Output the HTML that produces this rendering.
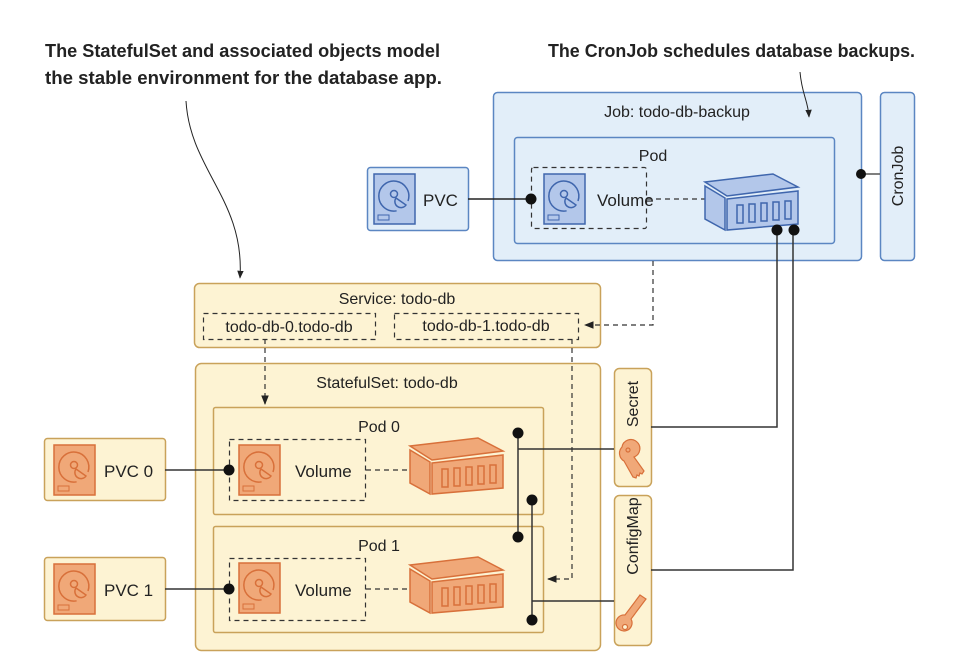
<!DOCTYPE html>
<html><head><meta charset="utf-8"><style>
html,body{margin:0;padding:0;background:#fff;}
svg{display:block;font-family:"Liberation Sans",sans-serif;}
</style></head><body>
<svg width="978" height="661" viewBox="0 0 978 661" xmlns="http://www.w3.org/2000/svg">
<defs>
<marker id="ah" viewBox="0 0 10 10" refX="9" refY="5" markerWidth="8" markerHeight="8" orient="auto"><path d="M0,1 L10,5 L0,9 Z" fill="#222"/></marker>
<g id="diskB">
<rect x="0" y="0" width="41" height="50" fill="#b3c7ea" stroke="#3f66ad" stroke-width="1.5"/>
<path d="M34,27 A15,15 0 1 0 22.6,36.8" fill="none" stroke="#3f66ad" stroke-width="1.5"/>
<circle cx="20" cy="20" r="3.5" fill="none" stroke="#3f66ad" stroke-width="1.5"/>
<path d="M22,24 L32,31 A6,6 0 1 1 22,24 Z" fill="none" stroke="#3f66ad" stroke-width="1.5"/>
<rect x="4" y="41" width="11" height="5" fill="none" stroke="#3f66ad" stroke-width="1"/>
</g>
<g id="diskO">
<rect x="0" y="0" width="41" height="50" fill="#f0a878" stroke="#d8703a" stroke-width="1.5"/>
<path d="M34,27 A15,15 0 1 0 22.6,36.8" fill="none" stroke="#d8703a" stroke-width="1.5"/>
<circle cx="20" cy="20" r="3.5" fill="none" stroke="#d8703a" stroke-width="1.5"/>
<path d="M22,24 L32,31 A6,6 0 1 1 22,24 Z" fill="none" stroke="#d8703a" stroke-width="1.5"/>
<rect x="4" y="41" width="11" height="5" fill="none" stroke="#d8703a" stroke-width="1"/>
</g>
<g id="contB" stroke="#3f66ad" stroke-width="1.5" fill="#b3c7ea">
<polygon points="5,10 73,2 98,15 27,24"/>
<polygon points="5,14 25,26 25,58 5,47"/>
<polygon points="27,27 98,19 98,52 27,58"/>
<rect x="37" y="33" width="6" height="18"/><rect x="49" y="32" width="6" height="18"/><rect x="61" y="31" width="6" height="18"/><rect x="73" y="30" width="6" height="18"/><rect x="85" y="29" width="6" height="18"/>
</g>
<g id="contO" stroke="#d8703a" stroke-width="1.5" fill="#f0a878">
<polygon points="5,10 73,2 98,15 27,24"/>
<polygon points="5,14 25,26 25,58 5,47"/>
<polygon points="27,27 98,19 98,52 27,58"/>
<rect x="37" y="33" width="6" height="18"/><rect x="49" y="32" width="6" height="18"/><rect x="61" y="31" width="6" height="18"/><rect x="73" y="30" width="6" height="18"/><rect x="85" y="29" width="6" height="18"/>
</g>
</defs>

<!-- Job -->
<rect x="493.5" y="92.5" width="368" height="168" rx="4" fill="#e2eef9" stroke="#5b86c2" stroke-width="1.5"/>
<text x="677" y="117" font-size="16" text-anchor="middle" fill="#222">Job: todo-db-backup</text>
<rect x="514.5" y="137.5" width="320" height="106" rx="3" fill="#e2eef9" stroke="#5b86c2" stroke-width="1.5"/>
<text x="653" y="161" font-size="16" text-anchor="middle" fill="#222">Pod</text>
<rect x="880.5" y="92.5" width="34" height="168" rx="4" fill="#e2eef9" stroke="#5b86c2" stroke-width="1.5"/>
<text transform="translate(903,176) rotate(-90)" font-size="16" text-anchor="middle" fill="#222">CronJob</text>
<line x1="860" y1="174" x2="880" y2="174" stroke="#555" stroke-width="1.5"/>
<circle cx="861" cy="174" r="5" fill="#111"/>
<rect x="367.5" y="167.5" width="101" height="63" rx="3" fill="#e2eef9" stroke="#5b86c2" stroke-width="1.5"/>
<use href="#diskB" x="374" y="174"/>
<text x="423" y="206" font-size="17" fill="#222">PVC</text>
<rect x="531.5" y="167.5" width="115" height="61" rx="2" fill="none" stroke="#333" stroke-width="1.2" stroke-dasharray="5,4"/>
<use href="#diskB" x="544" y="174"/>
<text x="597" y="206" font-size="17" fill="#222">Volume</text>
<line x1="468" y1="199" x2="531" y2="199" stroke="#222" stroke-width="1.5"/>
<circle cx="531" cy="199" r="5.5" fill="#111"/>
<line x1="647" y1="199" x2="705" y2="199" stroke="#333" stroke-width="1.2" stroke-dasharray="5,4"/>
<use href="#contB" x="700" y="172"/>

<!-- Service -->
<rect x="194.5" y="283.5" width="406" height="64" rx="5" fill="#fdf3d3" stroke="#c9a25a" stroke-width="1.5"/>
<text x="397" y="304" font-size="16" text-anchor="middle" fill="#222">Service: todo-db</text>
<rect x="203.5" y="313.5" width="172" height="26" fill="none" stroke="#333" stroke-width="1.2" stroke-dasharray="5,4"/>
<text x="289" y="332" font-size="16" text-anchor="middle" fill="#222">todo-db-0.todo-db</text>
<rect x="394.5" y="313.5" width="184" height="26" fill="none" stroke="#333" stroke-width="1.2" stroke-dasharray="5,4"/>
<text x="486" y="331" font-size="16" text-anchor="middle" fill="#222">todo-db-1.todo-db</text>

<!-- StatefulSet -->
<rect x="195.5" y="363.5" width="405" height="287" rx="6" fill="#fdf3d3" stroke="#c9a25a" stroke-width="1.5"/>
<text x="387" y="388" font-size="16" text-anchor="middle" fill="#222">StatefulSet: todo-db</text>
<rect x="213.5" y="407.5" width="330" height="107" rx="2" fill="#fdf3d3" stroke="#c9a25a" stroke-width="1.5"/>
<text x="379" y="432" font-size="16" text-anchor="middle" fill="#222">Pod 0</text>
<rect x="213.5" y="526.5" width="330" height="106" rx="2" fill="#fdf3d3" stroke="#c9a25a" stroke-width="1.5"/>
<text x="379" y="551" font-size="16" text-anchor="middle" fill="#222">Pod 1</text>

<rect x="229.5" y="439.5" width="136" height="61" fill="none" stroke="#333" stroke-width="1.2" stroke-dasharray="5,4"/>
<use href="#diskO" x="239" y="445"/>
<text x="295" y="477" font-size="17" fill="#222">Volume</text>
<line x1="366" y1="470" x2="412" y2="470" stroke="#333" stroke-width="1.2" stroke-dasharray="5,4"/>
<use href="#contO" x="405" y="436"/>

<rect x="229.5" y="558.5" width="136" height="62" fill="none" stroke="#333" stroke-width="1.2" stroke-dasharray="5,4"/>
<use href="#diskO" x="239" y="563"/>
<text x="295" y="596" font-size="17" fill="#222">Volume</text>
<line x1="366" y1="589" x2="412" y2="589" stroke="#333" stroke-width="1.2" stroke-dasharray="5,4"/>
<use href="#contO" x="405" y="555"/>

<!-- PVCs -->
<rect x="44.5" y="438.5" width="121" height="62" rx="3" fill="#fdf3d3" stroke="#c9a25a" stroke-width="1.5"/>
<use href="#diskO" x="54" y="445"/>
<text x="104" y="477" font-size="17" fill="#222">PVC 0</text>
<rect x="44.5" y="557.5" width="121" height="63" rx="3" fill="#fdf3d3" stroke="#c9a25a" stroke-width="1.5"/>
<use href="#diskO" x="54" y="564"/>
<text x="104" y="596" font-size="17" fill="#222">PVC 1</text>
<line x1="165" y1="470" x2="229" y2="470" stroke="#333" stroke-width="1.5"/>
<circle cx="229" cy="470" r="5.5" fill="#111"/>
<line x1="165" y1="589" x2="229" y2="589" stroke="#333" stroke-width="1.5"/>
<circle cx="229" cy="589" r="5.5" fill="#111"/>

<!-- Secret / ConfigMap -->
<rect x="614.5" y="368.5" width="37" height="118" rx="5" fill="#fdf3d3" stroke="#c9a25a" stroke-width="1.5"/>
<text transform="translate(638,404) rotate(-90)" font-size="16" text-anchor="middle" fill="#222">Secret</text>
<g fill="#f0a878" stroke="#d8703a" stroke-width="1.2">
<path d="M622,447 a9,9 0 1 1 12,10 l10,14 l-2,3 l-2,-1 l-1,3 l-2,-1 l-1,3 l-3,-1 l-9,-16 a9,9 0 0 1 -2,-14 z"/>
<circle cx="628" cy="450" r="2" fill="none"/>
</g>
<rect x="614.5" y="495.5" width="37" height="150" rx="5" fill="#fdf3d3" stroke="#c9a25a" stroke-width="1.5"/>
<text transform="translate(638,536) rotate(-90)" font-size="16" text-anchor="middle" fill="#222">ConfigMap</text>
<g fill="#f0a878" stroke="#d8703a" stroke-width="1.2">
<path d="M640,595 l6,4 l-15,20 a8,8 0 1 1 -6,-4 z"/>
<circle cx="625" cy="627" r="2.5" fill="#fdf3d3"/>
</g>

<!-- dashed service arrows -->
<path d="M653,261 L653,325 L585,325" fill="none" stroke="#333" stroke-width="1.2" stroke-dasharray="5,4" marker-end="url(#ah)"/>
<path d="M265,339 L265,404" fill="none" stroke="#333" stroke-width="1.2" stroke-dasharray="5,4" marker-end="url(#ah)"/>
<path d="M572,339 L572,579 L548,579" fill="none" stroke="#333" stroke-width="1.2" stroke-dasharray="5,4" marker-end="url(#ah)"/>

<!-- secret/configmap connectors -->
<g stroke="#333" stroke-width="1.5" fill="none">
<line x1="518" y1="433" x2="518" y2="537"/>
<line x1="518" y1="449" x2="614" y2="449"/>
<line x1="532" y1="500" x2="532" y2="620"/>
<line x1="532" y1="601" x2="614" y2="601"/>
<path d="M651,427 L777,427 L777,230"/>
<path d="M651,570 L793,570 L793,230"/>
</g>
<g fill="#111">
<circle cx="518" cy="433" r="5.5"/><circle cx="518" cy="537" r="5.5"/>
<circle cx="532" cy="500" r="5.5"/><circle cx="532" cy="620" r="5.5"/>
<circle cx="777" cy="230" r="5.5"/><circle cx="794" cy="230" r="5.5"/>
</g>

<!-- annotations -->
<g font-weight="bold" font-size="18" fill="#222">
<text x="45" y="57" textLength="395" lengthAdjust="spacingAndGlyphs">The StatefulSet and associated objects model</text>
<text x="45" y="84" textLength="397" lengthAdjust="spacingAndGlyphs">the stable environment for the database app.</text>
<text x="548" y="57" textLength="367" lengthAdjust="spacingAndGlyphs">The CronJob schedules database backups.</text>
</g>
<path d="M186,101 C190,170 245,200 240,278" fill="none" stroke="#222" stroke-width="1" marker-end="url(#ah)"/>
<path d="M800,72 C802,95 808,100 809,117" fill="none" stroke="#222" stroke-width="1" marker-end="url(#ah)"/>
</svg>
</body></html>
